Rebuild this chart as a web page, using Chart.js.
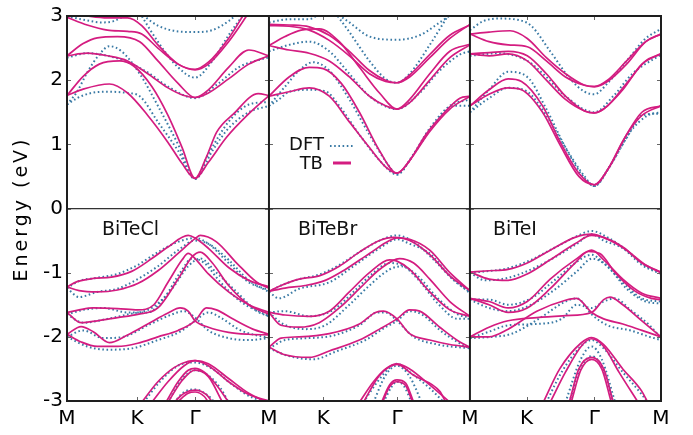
<!DOCTYPE html>
<html><head><meta charset="utf-8">
<script src="https://cdn.jsdelivr.net/npm/chart.js@4"></script>
<style>html,body{margin:0;padding:0;background:#fff}canvas{display:block}</style>
</head><body>
<canvas id="c" width="693" height="435"></canvas>
<script>
// ---------- data ----------
const panelNames = ['BiTeCl', 'BiTeBr', 'BiTeI'];
const pathLengths = [1.0, 0.995, 0.946];     // relative k-path length of each panel
const kFrac = [0.347, 0.27, 0.297];          // K position along each path
const gFrac = [0.634, 0.637, 0.651];         // Gamma position along each path
const pointLabels = ['M', 'K', 'Γ'];
const yTicks = [-3, -2, -1, 0, 1, 2, 3];
const legendNames = ['DFT', 'TB'];
const yTitle = 'Energy (eV)';

// bands: [k fraction, energy eV]
const clTB = [
  [[0,1.76],[0.08,1.86],[0.21,1.94],[0.3,1.8],[0.4,1.45],[0.5,1.03],[0.57,0.7],[0.634,0.47],[0.7,0.72],[0.79,1.11],[0.898,1.47],[1,1.76]],
  [[0,1.76],[0.08,2.06],[0.16,2.25],[0.26,2.3],[0.33,2.22],[0.42,1.9],[0.5,1.45],[0.57,0.95],[0.634,0.47],[0.69,0.8],[0.741,1.19],[0.823,1.47],[0.947,1.79],[1,1.76]],
  [[0,2.38],[0.1,2.42],[0.2,2.38],[0.3,2.3],[0.4,2.1],[0.5,1.88],[0.58,1.76],[0.634,1.73],[0.7,1.8],[0.8,2.02],[0.9,2.25],[1,2.38]],
  [[0,2.38],[0.08,2.57],[0.15,2.66],[0.25,2.68],[0.36,2.6],[0.45,2.3],[0.55,1.95],[0.634,1.73],[0.7,1.85],[0.8,2.2],[0.9,2.47],[1,2.38]],
  [[0,2.98],[0.1,2.86],[0.2,2.78],[0.3,2.76],[0.37,2.72],[0.45,2.5],[0.55,2.25],[0.634,2.16],[0.7,2.25],[0.8,2.6],[0.9,3.05]],
  [[0,3.05],[0.1,3.0],[0.2,2.97],[0.3,2.97],[0.37,2.85],[0.45,2.55],[0.55,2.25],[0.634,2.17],[0.7,2.28],[0.8,2.65],[0.88,3.05]],
  [[0,-1.22],[0.05,-1.14],[0.13,-1.09],[0.22,-1.07],[0.32,-0.98],[0.42,-0.78],[0.5,-0.6],[0.6,-0.42],[0.634,-0.46],[0.7,-0.62],[0.8,-0.92],[0.9,-1.12],[1,-1.22]],
  [[0,-1.22],[0.06,-1.28],[0.15,-1.3],[0.25,-1.27],[0.35,-1.17],[0.45,-0.97],[0.55,-0.7],[0.634,-0.47],[0.66,-0.42],[0.74,-0.52],[0.84,-0.85],[0.94,-1.15],[1,-1.24]],
  [[0,-1.62],[0.06,-1.58],[0.13,-1.55],[0.25,-1.56],[0.35,-1.58],[0.43,-1.5],[0.5,-1.15],[0.57,-0.8],[0.6,-0.7],[0.634,-0.78],[0.7,-1.02],[0.8,-1.3],[0.9,-1.5],[1,-1.62]],
  [[0,-1.62],[0.07,-1.78],[0.15,-1.75],[0.25,-1.7],[0.35,-1.65],[0.45,-1.55],[0.55,-1.1],[0.62,-0.75],[0.66,-0.68],[0.72,-0.85],[0.8,-1.2],[0.9,-1.5],[1,-1.65]],
  [[0,-1.96],[0.07,-1.84],[0.13,-1.92],[0.21,-2.09],[0.3,-1.97],[0.4,-1.8],[0.5,-1.63],[0.56,-1.55],[0.6,-1.6],[0.634,-1.75],[0.7,-1.85],[0.8,-1.93],[0.9,-1.96],[1,-1.97]],
  [[0,-1.96],[0.07,-2.08],[0.15,-2.15],[0.25,-2.15],[0.35,-2.1],[0.45,-2.0],[0.55,-1.9],[0.634,-1.75],[0.69,-1.55],[0.74,-1.58],[0.82,-1.72],[0.92,-1.88],[1,-1.96]],
  [[0.37,-3.02],[0.45,-2.7],[0.53,-2.48],[0.6,-2.38],[0.634,-2.37],[0.7,-2.45],[0.8,-2.7],[0.9,-2.9],[1,-3.0]],
  [[0.42,-3.02],[0.5,-2.7],[0.58,-2.45],[0.634,-2.37],[0.7,-2.42],[0.8,-2.65],[0.9,-2.88],[0.99,-3.02]],
  [[0.49,-3.02],[0.55,-2.7],[0.6,-2.52],[0.634,-2.49],[0.68,-2.55],[0.74,-2.75],[0.8,-3.02]],
  [[0.5,-3.02],[0.57,-2.68],[0.634,-2.52],[0.7,-2.62],[0.77,-3.02]],
  [[0.53,-3.02],[0.58,-2.88],[0.634,-2.83],[0.69,-2.9],[0.72,-3.02]],
  [[0.545,-3.02],[0.6,-2.88],[0.634,-2.86],[0.68,-2.93],[0.7,-3.02]]
];
const clDFT = [
  [[0,1.62],[0.05,1.72],[0.12,1.8],[0.2,1.82],[0.3,1.8],[0.36,1.75],[0.45,1.35],[0.55,0.9],[0.634,0.46],[0.72,0.9],[0.8,1.25],[0.9,1.5],[1,1.6]],
  [[0,1.62],[0.05,1.82],[0.1,2.12],[0.16,2.4],[0.21,2.53],[0.27,2.45],[0.36,2.1],[0.45,1.6],[0.55,1.0],[0.634,0.46],[0.7,0.85],[0.8,1.35],[0.9,1.62],[1,1.66]],
  [[0.36,3.05],[0.45,2.6],[0.55,2.2],[0.634,2.04],[0.72,2.3],[0.8,2.7],[0.88,3.05]],
  [[0,2.35],[0.1,2.42],[0.2,2.38],[0.3,2.28],[0.4,2.12],[0.5,1.9],[0.634,1.72],[0.75,1.95],[0.85,2.2],[1,2.36]],
  [[0.36,3.05],[0.45,2.85],[0.55,2.76],[0.634,2.75],[0.72,2.78],[0.8,2.92],[0.85,3.05]],
  [[0,3.0],[0.1,2.93],[0.17,2.9],[0.23,2.92],[0.3,3.03]],
  [[0,-1.24],[0.06,-1.13],[0.15,-1.08],[0.25,-1.02],[0.35,-0.88],[0.45,-0.68],[0.55,-0.52],[0.634,-0.46],[0.7,-0.55],[0.8,-0.85],[0.9,-1.15],[1,-1.27]],
  [[0,-1.24],[0.06,-1.38],[0.15,-1.3],[0.25,-1.25],[0.35,-1.1],[0.45,-0.9],[0.55,-0.65],[0.634,-0.5],[0.7,-0.55],[0.8,-0.8],[0.9,-1.12],[1,-1.3]],
  [[0,-1.65],[0.08,-1.58],[0.18,-1.55],[0.3,-1.62],[0.4,-1.62],[0.48,-1.4],[0.56,-1.0],[0.62,-0.78],[0.68,-0.85],[0.76,-1.15],[0.86,-1.45],[1,-1.68]],
  [[0,-1.65],[0.08,-1.78],[0.2,-1.72],[0.3,-1.65],[0.42,-1.55],[0.52,-1.25],[0.6,-0.9],[0.66,-0.78],[0.74,-1.0],[0.84,-1.3],[0.94,-1.6],[1,-1.68]],
  [[0,-2.0],[0.08,-1.9],[0.18,-2.02],[0.28,-2.0],[0.4,-1.82],[0.52,-1.65],[0.58,-1.6],[0.634,-1.7],[0.7,-1.9],[0.8,-2.02],[0.9,-2.05],[1,-2.02]],
  [[0,-2.0],[0.1,-2.15],[0.2,-2.2],[0.32,-2.18],[0.45,-2.05],[0.56,-1.92],[0.634,-1.75],[0.7,-1.62],[0.76,-1.7],[0.86,-1.9],[1,-2.02]],
  [[0.38,-3.02],[0.46,-2.7],[0.55,-2.45],[0.634,-2.4],[0.72,-2.5],[0.82,-2.75],[0.92,-2.95],[1,-3.0]],
  [[0.5,-3.02],[0.56,-2.7],[0.634,-2.52],[0.7,-2.6],[0.76,-2.8],[0.8,-3.02]],
  [[0.53,-3.02],[0.58,-2.86],[0.634,-2.82],[0.7,-2.92],[0.73,-3.02]]
];
const brTB = [
  [[0,1.75],[0.1,1.82],[0.2,1.88],[0.3,1.75],[0.4,1.35],[0.5,0.95],[0.58,0.65],[0.637,0.55],[0.7,0.75],[0.8,1.2],[0.9,1.55],[1,1.75]],
  [[0,1.75],[0.1,2.05],[0.2,2.2],[0.27,2.18],[0.36,1.95],[0.45,1.5],[0.55,0.9],[0.637,0.55],[0.69,0.7],[0.78,1.15],[0.88,1.52],[0.95,1.72],[1,1.75]],
  [[0,2.54],[0.1,2.47],[0.2,2.42],[0.3,2.3],[0.4,2.05],[0.5,1.75],[0.58,1.6],[0.637,1.55],[0.7,1.65],[0.8,2.0],[0.9,2.35],[1,2.55]],
  [[0,2.54],[0.08,2.68],[0.16,2.78],[0.25,2.8],[0.35,2.6],[0.45,2.2],[0.55,1.8],[0.637,1.55],[0.7,1.7],[0.8,2.1],[0.9,2.45],[1,2.56]],
  [[0,2.87],[0.1,2.86],[0.2,2.83],[0.3,2.7],[0.4,2.45],[0.5,2.15],[0.58,2.0],[0.637,1.96],[0.7,2.05],[0.8,2.35],[0.9,2.65],[1,2.87]],
  [[0,2.85],[0.1,2.84],[0.2,2.78],[0.3,2.62],[0.4,2.38],[0.5,2.1],[0.58,1.98],[0.637,1.96],[0.7,2.08],[0.8,2.4],[0.9,2.7],[1,2.86]],
  [[0,-1.29],[0.06,-1.2],[0.15,-1.1],[0.25,-1.05],[0.35,-0.9],[0.45,-0.68],[0.55,-0.5],[0.62,-0.45],[0.7,-0.5],[0.8,-0.72],[0.9,-1.05],[1,-1.28]],
  [[0,-1.29],[0.08,-1.24],[0.18,-1.2],[0.28,-1.12],[0.38,-0.95],[0.5,-0.7],[0.6,-0.5],[0.637,-0.46],[0.7,-0.48],[0.8,-0.65],[0.9,-1.0],[1,-1.28]],
  [[0,-1.62],[0.08,-1.66],[0.2,-1.68],[0.3,-1.6],[0.4,-1.3],[0.5,-1.0],[0.6,-0.8],[0.637,-0.82],[0.7,-0.95],[0.8,-1.3],[0.9,-1.58],[1,-1.68]],
  [[0,-1.62],[0.06,-1.82],[0.15,-1.85],[0.25,-1.78],[0.35,-1.55],[0.45,-1.25],[0.55,-0.95],[0.65,-0.78],[0.72,-0.85],[0.8,-1.1],[0.9,-1.45],[1,-1.68]],
  [[0,-2.16],[0.06,-2.02],[0.15,-2.0],[0.3,-1.95],[0.45,-1.8],[0.53,-1.62],[0.57,-1.6],[0.637,-1.72],[0.7,-1.95],[0.8,-2.05],[0.9,-2.12],[1,-2.16]],
  [[0,-2.16],[0.08,-2.28],[0.2,-2.32],[0.3,-2.22],[0.45,-2.05],[0.55,-1.88],[0.637,-1.72],[0.7,-1.58],[0.75,-1.6],[0.85,-1.85],[0.95,-2.08],[1,-2.16]],
  [[0.45,-3.02],[0.52,-2.7],[0.58,-2.5],[0.637,-2.42],[0.7,-2.5],[0.8,-2.75],[0.9,-3.02]],
  [[0.47,-3.02],[0.55,-2.6],[0.637,-2.43],[0.72,-2.6],[0.85,-2.85],[0.88,-3.02]],
  [[0.56,-3.02],[0.6,-2.75],[0.637,-2.67],[0.68,-2.72],[0.72,-3.02]],
  [[0.565,-3.02],[0.6,-2.78],[0.637,-2.7],[0.68,-2.76],[0.715,-3.02]]
];
const brDFT = [
  [[0,2.9],[0.1,2.95],[0.2,2.95],[0.25,3.03]],
  [[0.33,3.05],[0.4,2.9],[0.5,2.68],[0.637,2.63],[0.75,2.7],[0.85,2.9],[0.92,3.05]],
  [[0.33,3.05],[0.4,2.75],[0.5,2.3],[0.58,2.02],[0.637,1.96],[0.7,2.1],[0.8,2.55],[0.88,2.95],[0.9,3.05]],
  [[0,2.45],[0.1,2.55],[0.2,2.6],[0.3,2.45],[0.4,2.1],[0.5,1.75],[0.637,1.55],[0.75,1.8],[0.85,2.15],[0.95,2.4],[1,2.45]],
  [[0,1.6],[0.05,1.7],[0.1,1.82],[0.2,1.85],[0.28,1.83],[0.35,1.6],[0.45,1.15],[0.55,0.75],[0.637,0.53],[0.72,0.85],[0.82,1.3],[0.92,1.6],[1,1.6]],
  [[0,1.6],[0.08,1.9],[0.15,2.15],[0.22,2.28],[0.3,2.15],[0.4,1.7],[0.5,1.15],[0.6,0.65],[0.637,0.53],[0.7,0.75],[0.8,1.25],[0.9,1.6],[1,1.7]],
  [[0,-1.3],[0.06,-1.2],[0.15,-1.1],[0.25,-1.03],[0.35,-0.88],[0.45,-0.68],[0.55,-0.5],[0.637,-0.42],[0.72,-0.52],[0.82,-0.8],[0.92,-1.12],[1,-1.3]],
  [[0,-1.3],[0.05,-1.4],[0.15,-1.25],[0.3,-1.15],[0.42,-0.9],[0.55,-0.62],[0.637,-0.48],[0.7,-0.55],[0.8,-0.7],[0.9,-1.05],[1,-1.32]],
  [[0,-1.62],[0.08,-1.6],[0.2,-1.68],[0.32,-1.58],[0.42,-1.3],[0.52,-1.0],[0.6,-0.85],[0.66,-0.88],[0.74,-1.05],[0.84,-1.4],[0.94,-1.65],[1,-1.7]],
  [[0,-1.62],[0.07,-1.8],[0.18,-1.88],[0.28,-1.82],[0.4,-1.5],[0.5,-1.2],[0.6,-0.95],[0.66,-0.9],[0.74,-1.1],[0.84,-1.48],[0.94,-1.72],[1,-1.72]],
  [[0,-2.18],[0.08,-2.05],[0.2,-2.02],[0.32,-1.98],[0.45,-1.82],[0.54,-1.62],[0.58,-1.62],[0.637,-1.75],[0.72,-2.0],[0.84,-2.12],[1,-2.18]],
  [[0,-2.18],[0.1,-2.3],[0.22,-2.35],[0.34,-2.22],[0.48,-2.05],[0.58,-1.85],[0.637,-1.75],[0.7,-1.6],[0.76,-1.65],[0.86,-1.92],[0.96,-2.12],[1,-2.18]],
  [[0.47,-3.02],[0.54,-2.7],[0.6,-2.48],[0.637,-2.42],[0.7,-2.55],[0.8,-2.8],[0.87,-3.02]],
  [[0.52,-3.02],[0.58,-2.6],[0.637,-2.45],[0.7,-2.62],[0.76,-3.02]],
  [[0.57,-3.02],[0.61,-2.78],[0.637,-2.7],[0.67,-2.76],[0.71,-3.02]]
];
const iTB = [
  [[0,1.6],[0.1,1.85],[0.2,2.02],[0.27,1.98],[0.38,1.6],[0.47,1.05],[0.57,0.55],[0.651,0.37],[0.73,0.65],[0.82,1.15],[0.9,1.45],[1,1.6]],
  [[0,1.6],[0.1,1.78],[0.2,1.88],[0.27,1.85],[0.38,1.5],[0.47,1.0],[0.57,0.5],[0.651,0.37],[0.72,0.6],[0.8,1.05],[0.9,1.5],[1,1.6]],
  [[0,2.41],[0.1,2.43],[0.2,2.45],[0.3,2.38],[0.4,2.1],[0.5,1.75],[0.6,1.52],[0.651,1.49],[0.72,1.6],[0.82,1.95],[0.92,2.3],[1,2.41]],
  [[0,2.41],[0.1,2.38],[0.2,2.41],[0.3,2.3],[0.4,2.0],[0.5,1.7],[0.6,1.52],[0.651,1.49],[0.7,1.55],[0.8,1.85],[0.9,2.25],[1,2.41]],
  [[0,2.72],[0.1,2.75],[0.21,2.77],[0.3,2.65],[0.4,2.35],[0.5,2.1],[0.6,1.92],[0.651,1.9],[0.72,2.0],[0.82,2.3],[0.92,2.6],[1,2.72]],
  [[0,2.72],[0.1,2.6],[0.2,2.55],[0.3,2.52],[0.4,2.3],[0.5,2.05],[0.6,1.92],[0.651,1.9],[0.72,1.98],[0.82,2.25],[0.92,2.6],[1,2.72]],
  [[0,-0.99],[0.1,-0.97],[0.2,-0.95],[0.3,-0.85],[0.42,-0.65],[0.55,-0.45],[0.637,-0.4],[0.72,-0.48],[0.82,-0.65],[0.92,-0.88],[1,-0.99]],
  [[0,-0.99],[0.1,-1.1],[0.2,-1.12],[0.3,-1.02],[0.42,-0.8],[0.55,-0.55],[0.637,-0.42],[0.7,-0.45],[0.8,-0.6],[0.9,-0.85],[1,-1.0]],
  [[0,-1.4],[0.1,-1.45],[0.2,-1.55],[0.3,-1.45],[0.42,-1.1],[0.55,-0.8],[0.637,-0.65],[0.7,-0.8],[0.8,-1.1],[0.9,-1.32],[1,-1.4]],
  [[0,-1.4],[0.1,-1.5],[0.2,-1.62],[0.3,-1.55],[0.42,-1.25],[0.55,-0.85],[0.62,-0.67],[0.68,-0.7],[0.76,-1.0],[0.86,-1.28],[0.95,-1.4],[1,-1.42]],
  [[0,-2.0],[0.1,-1.85],[0.2,-1.75],[0.35,-1.7],[0.5,-1.67],[0.637,-1.62],[0.7,-1.42],[0.733,-1.38],[0.8,-1.5],[0.9,-1.75],[1,-2.0]],
  [[0,-2.0],[0.1,-2.0],[0.2,-1.88],[0.35,-1.6],[0.5,-1.43],[0.558,-1.4],[0.637,-1.62],[0.7,-1.72],[0.8,-1.8],[0.9,-1.9],[1,-2.0]],
  [[0.384,-3.02],[0.47,-2.5],[0.58,-2.1],[0.637,-2.01],[0.7,-2.12],[0.8,-2.5],[0.9,-2.85],[0.93,-3.02]],
  [[0.42,-3.02],[0.5,-2.55],[0.59,-2.12],[0.637,-2.03],[0.7,-2.15],[0.78,-2.55],[0.88,-3.02]],
  [[0.52,-3.02],[0.57,-2.5],[0.637,-2.32],[0.7,-2.5],[0.75,-3.02]],
  [[0.53,-3.02],[0.58,-2.52],[0.637,-2.35],[0.69,-2.5],[0.74,-3.02]]
];
const iDFT = [
  [[0,2.78],[0.07,2.92],[0.15,2.96],[0.25,2.94],[0.32,2.85],[0.42,2.45],[0.53,2.0],[0.6,1.82],[0.651,1.78],[0.72,1.95],[0.82,2.3],[0.92,2.65],[1,2.8]],
  [[0,1.5],[0.1,1.85],[0.2,2.13],[0.3,2.05],[0.4,1.55],[0.5,0.95],[0.58,0.55],[0.651,0.35],[0.72,0.6],[0.82,1.1],[0.9,1.45],[1,1.48]],
  [[0,1.5],[0.1,1.72],[0.2,1.88],[0.3,1.82],[0.4,1.45],[0.5,0.95],[0.6,0.5],[0.651,0.35],[0.74,0.7],[0.84,1.2],[0.93,1.45],[1,1.5]],
  [[0,2.38],[0.15,2.42],[0.3,2.3],[0.4,2.05],[0.5,1.75],[0.651,1.5],[0.75,1.75],[0.85,2.1],[1,2.4]],
  [[0,-1.0],[0.08,-0.98],[0.2,-0.93],[0.32,-0.8],[0.45,-0.6],[0.56,-0.43],[0.637,-0.35],[0.72,-0.45],[0.82,-0.65],[0.92,-0.9],[1,-1.0]],
  [[0,-1.0],[0.08,-1.12],[0.2,-1.08],[0.32,-0.95],[0.45,-0.75],[0.56,-0.55],[0.637,-0.4],[0.7,-0.5],[0.8,-0.62],[0.9,-0.88],[1,-1.02]],
  [[0,-1.42],[0.1,-1.42],[0.2,-1.5],[0.32,-1.4],[0.45,-1.1],[0.55,-0.85],[0.637,-0.72],[0.7,-0.85],[0.8,-1.15],[0.9,-1.4],[1,-1.45]],
  [[0,-1.42],[0.1,-1.55],[0.2,-1.6],[0.32,-1.5],[0.45,-1.25],[0.56,-0.98],[0.64,-0.78],[0.72,-0.9],[0.82,-1.25],[0.92,-1.45],[1,-1.48]],
  [[0,-2.02],[0.1,-1.92],[0.2,-1.82],[0.35,-1.8],[0.48,-1.72],[0.56,-1.5],[0.637,-1.55],[0.7,-1.45],[0.76,-1.4],[0.84,-1.58],[0.94,-1.82],[1,-2.02]],
  [[0,-2.02],[0.12,-2.0],[0.22,-1.95],[0.36,-1.72],[0.5,-1.45],[0.56,-1.4],[0.637,-1.65],[0.72,-1.82],[0.84,-1.9],[0.94,-2.0],[1,-2.05]],
  [[0.4,-3.02],[0.48,-2.55],[0.58,-2.15],[0.637,-2.05],[0.7,-2.18],[0.8,-2.55],[0.9,-2.9],[0.93,-3.02]],
  [[0.52,-3.02],[0.57,-2.55],[0.637,-2.3],[0.7,-2.52],[0.75,-3.02]],
  [[0.5,-3.02],[0.58,-2.35],[0.637,-2.15],[0.69,-2.35],[0.76,-3.02]]
];
const tbSets = [clTB, brTB, iTB];
const dftSets = [clDFT, brDFT, iDFT];

// ---------- build ----------
const TB_COLOR = '#d41c80';
const DFT_COLOR = 'rgb(58,122,165)';
const FONT = 'DejaVu Sans';
const panelStarts = pathLengths.map((_, i) => pathLengths.slice(0, i).reduce((a, b) => a + b, 0));
const total = pathLengths.reduce((a, b) => a + b, 0);

const tickPos = [], tickLab = [];
panelStarts.forEach((s, i) => {
  tickPos.push(s, s + kFrac[i] * pathLengths[i], s + gFrac[i] * pathLengths[i]);
  tickLab.push(pointLabels[0], pointLabels[1], pointLabels[2]);
});
tickPos.push(total); tickLab.push(pointLabels[0]);

const datasets = [];
const toXY = (band, p) => band.map(([t, e]) => ({ x: panelStarts[p] + t * pathLengths[p], y: e }));
tbSets.forEach((set, p) => set.forEach(b => datasets.push({
  data: toXY(b, p), borderColor: TB_COLOR, borderWidth: 1.7, pointRadius: 0,
  cubicInterpolationMode: 'monotone', order: 0
})));
dftSets.forEach((set, p) => set.forEach(b => datasets.push({
  data: toXY(b, p), borderColor: DFT_COLOR, borderWidth: 2, borderDash: [1.6, 2.6],
  pointRadius: 0, cubicInterpolationMode: 'monotone', order: 1
})));

const decor = {
  id: 'decor',
  afterDatasetsDraw(chart) {
    const { ctx, chartArea: a, scales: { x, y } } = chart;
    ctx.save();
    // inner tick marks
    ctx.strokeStyle = '#666'; ctx.lineWidth = 1;
    panelStarts.forEach((s, i) => {
      const xl = x.getPixelForValue(s), xr = x.getPixelForValue(s + pathLengths[i]);
      yTicks.forEach(v => {
        const py = Math.round(y.getPixelForValue(v)) + 0.5;
        ctx.beginPath(); ctx.moveTo(xl, py); ctx.lineTo(xl + 4, py);
        ctx.moveTo(xr, py); ctx.lineTo(xr - 4, py); ctx.stroke();
      });
      [kFrac[i], gFrac[i]].forEach(f => {
        const px = Math.round(x.getPixelForValue(s + f * pathLengths[i])) + 0.5;
        ctx.beginPath(); ctx.moveTo(px, a.bottom); ctx.lineTo(px, a.bottom - 4);
        ctx.moveTo(px, a.top); ctx.lineTo(px, a.top + 4); ctx.stroke();
      });
    });
    // frame and separators
    ctx.strokeStyle = '#1e1e1e'; ctx.lineWidth = 2;
    ctx.strokeRect(a.left, a.top, a.right - a.left, a.bottom - a.top);
    panelStarts.slice(1).forEach(s => {
      const px = x.getPixelForValue(s);
      ctx.beginPath(); ctx.moveTo(px, a.top); ctx.lineTo(px, a.bottom); ctx.stroke();
    });
    // panel names
    ctx.fillStyle = '#111'; ctx.font = '19px "' + FONT + '"';
    ctx.textBaseline = 'middle'; ctx.textAlign = 'left';
    const nameOff = [35, 29, 23];
    panelNames.forEach((n, i) => {
      ctx.fillText(n, x.getPixelForValue(panelStarts[i]) + nameOff[i], y.getPixelForValue(0) + 22);
    });
    // legend
    const lx = x.getPixelForValue(panelStarts[1]);
    ctx.font = '18px "' + FONT + '"'; ctx.textAlign = 'right';
    ctx.fillText(legendNames[0], lx + 55, 145);
    ctx.fillText(legendNames[1], lx + 54, 164);
    ctx.strokeStyle = DFT_COLOR; ctx.lineWidth = 2; ctx.setLineDash([1.6, 2.6]);
    ctx.beginPath(); ctx.moveTo(lx + 61, 146); ctx.lineTo(lx + 84, 146); ctx.stroke();
    ctx.setLineDash([]);
    ctx.strokeStyle = TB_COLOR; ctx.lineWidth = 3;
    ctx.beginPath(); ctx.moveTo(lx + 64, 163); ctx.lineTo(lx + 82, 163); ctx.stroke();
    // y-axis title (letter-spaced)
    ctx.translate(22, (a.top + a.bottom) / 2 + 2);
    ctx.rotate(-Math.PI / 2);
    ctx.fillStyle = '#000';
    ctx.font = '19px "' + FONT + '"';
    ctx.textAlign = 'center'; ctx.textBaseline = 'middle';
    if ('letterSpacing' in ctx) ctx.letterSpacing = '3px';
    ctx.fillText(yTitle, 1.5, 0);
    ctx.restore();
  }
};

new Chart(document.getElementById('c'), {
  type: 'line',
  data: { datasets },
  plugins: [decor],
  options: {
    responsive: false, animation: false, devicePixelRatio: 1,
    layout: { padding: { top: 10, right: 32, left: 0, bottom: 0 } },
    plugins: { legend: { display: false }, tooltip: { enabled: false } },
    scales: {
      x: {
        type: 'linear', min: 0, max: total,
        afterBuildTicks: s => { s.ticks = tickPos.map(v => ({ value: v })); },
        afterFit: s => { s.height = 34; },
        ticks: { autoSkip: false, maxRotation: 0, padding: 6, color: '#000',
          font: { family: FONT, size: 20 },
          callback: (v, i) => tickLab[i] },
        grid: { display: false, drawTicks: false },
        border: { display: false }
      },
      y: {
        min: -3, max: 3,
        afterBuildTicks: s => { s.ticks = yTicks.map(v => ({ value: v })); },
        afterFit: s => { s.width = 67; },
        ticks: { padding: 4, color: '#000', font: { family: FONT, size: 20 } },
        grid: { drawTicks: false, lineWidth: 1.2,
          color: c => (c.tick && c.tick.value === 0) ? '#333' : 'rgba(0,0,0,0)' },
        border: { display: false },
        title: { display: false }
      }
    }
  }
});
</script>
</body></html>
